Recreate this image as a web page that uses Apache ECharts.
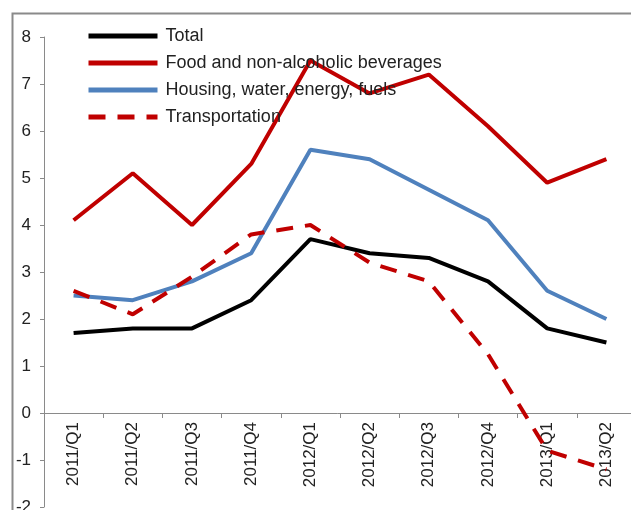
<!DOCTYPE html>
<html>
<head>
<meta charset="utf-8">
<script src="https://cdn.jsdelivr.net/npm/echarts@6/dist/echarts.min.js"></script>
<style>
html,body{margin:0;padding:0;background:#fff;}
#chart{width:631px;height:510px;}
</style>
</head>
<body>
<div id="chart"></div>
<script>
const categories = ['2011/Q1','2011/Q2','2011/Q3','2011/Q4','2012/Q1','2012/Q2','2012/Q3','2012/Q4','2013/Q1','2013/Q2'];
const total = [1.7, 1.8, 1.8, 2.4, 3.7, 3.4, 3.3, 2.8, 1.8, 1.5];
const food = [4.1, 5.1, 4.0, 5.3, 7.5, 6.8, 7.2, 6.1, 4.9, 5.4];
const housing = [2.5, 2.4, 2.8, 3.4, 5.6, 5.4, 4.75, 4.1, 2.6, 2.0];
const transport = [2.6, 2.1, 2.9, 3.8, 4.0, 3.2, 2.8, 1.25, -0.8, -1.2];
const seriesNames = ['Total', 'Food and non-alcoholic beverages', 'Housing, water, energy, fuels', 'Transportation'];
const yTicks = { min: -2, max: 8, interval: 1 };

const chart = echarts.init(document.getElementById('chart'), null, { renderer: 'canvas' });
const font = 'Liberation Sans, Arial, sans-serif';
function mk(name, data, color, type) {
  return {
    name: name, type: 'line', data: data, symbol: 'none', smooth: false,
    xAxisIndex: 0, yAxisIndex: 0,
    lineStyle: { color: color, width: 4, type: type, dashOffset: 0 },
    itemStyle: { color: color },
    z: 2
  };
}
chart.setOption({
  animation: false,
  backgroundColor: '#fff',
  graphic: [{
    type: 'rect', left: 10, top: 11, z: 0, silent: true,
    shape: { x: 0, y: 0, width: 640, height: 520 },
    style: { fill: 'none', stroke: '#8a8a8a', lineWidth: 2 }
  }],
  legend: {
    orient: 'vertical', left: 81, top: 22,
    itemWidth: 69, itemHeight: 14, itemGap: 9,
    itemStyle: { opacity: 0 },
    lineStyle: { width: 5 },
    textStyle: { fontFamily: font, fontSize: 18, color: '#222', padding: [0, 0, 0, 3] },
    data: seriesNames
  },
  grid: { left: 44, top: 37, width: 592, height: 470, containLabel: false, outerBoundsMode: 'none' },
  xAxis: [{
    type: 'category', data: categories, boundaryGap: true,
    axisLine: { onZero: true, lineStyle: { color: '#8a8a8a', width: 1 } },
    axisTick: { show: true, interval: 0, length: 5, lineStyle: { color: '#8a8a8a' } },
    axisLabel: { show: false, interval: 0 },
    splitLine: { show: false }
  }, {
    type: 'category', data: categories, boundaryGap: true,
    position: 'bottom', offset: -94,
    axisLine: { show: false, onZero: false },
    axisTick: { show: false },
    axisLabel: { interval: 0, rotate: 90, margin: 9, fontFamily: font, fontSize: 17, color: '#222' },
    splitLine: { show: false }
  }],
  yAxis: {
    type: 'value', min: yTicks.min, max: yTicks.max, interval: yTicks.interval,
    axisLine: { show: true, lineStyle: { color: '#8a8a8a', width: 1 } },
    axisTick: { show: true, length: 4, lineStyle: { color: '#8a8a8a' } },
    axisLabel: { margin: 13, fontFamily: font, fontSize: 17, color: '#222' },
    splitLine: { show: false }
  },
  series: [
    mk(seriesNames[0], total, '#000000', 'solid'),
    mk(seriesNames[1], food, '#C00000', 'solid'),
    mk(seriesNames[2], housing, '#4F81BD', 'solid'),
    mk(seriesNames[3], transport, '#C00000', [17, 12])
  ]
});
</script>
</body>
</html>
